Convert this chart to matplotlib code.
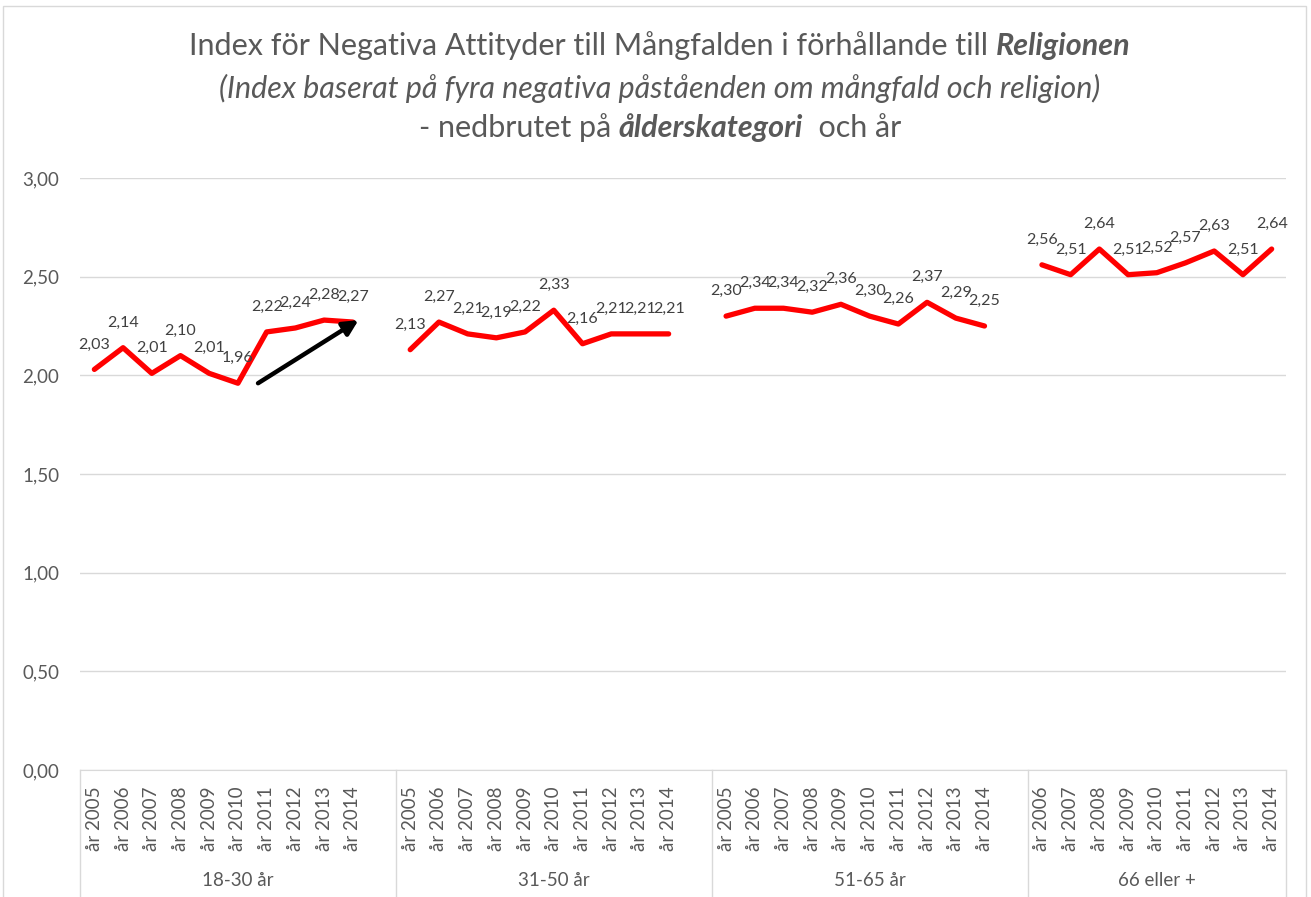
"""Index of negative attitudes, by age group and year."""
import matplotlib
matplotlib.use("Agg")
import matplotlib.pyplot as plt
from matplotlib.patches import Rectangle
import matplotlib.transforms as mtrans
import numpy as np

plt.rcParams['font.family'] = ['Lato', 'DejaVu Sans']

groups = ["18-30 år", "31-50 år", "51-65 år", "66 eller +"]
years = [
    [2005, 2006, 2007, 2008, 2009, 2010, 2011, 2012, 2013, 2014],
    [2005, 2006, 2007, 2008, 2009, 2010, 2011, 2012, 2013, 2014],
    [2005, 2006, 2007, 2008, 2009, 2010, 2011, 2012, 2013, 2014],
    [2006, 2007, 2008, 2009, 2010, 2011, 2012, 2013, 2014],
]
values = [
    [2.03, 2.14, 2.01, 2.10, 2.01, 1.96, 2.22, 2.24, 2.28, 2.27],
    [2.13, 2.27, 2.21, 2.19, 2.22, 2.33, 2.16, 2.21, 2.21, 2.21],
    [2.30, 2.34, 2.34, 2.32, 2.36, 2.30, 2.26, 2.37, 2.29, 2.25],
    [2.56, 2.51, 2.64, 2.51, 2.52, 2.57, 2.63, 2.51, 2.64],
]
# trend arrow in the first group: (category index, value)
arrow_start = (5.7, 1.96)
arrow_end = (9.2, 2.28)

yticks = [0.0, 0.5, 1.0, 1.5, 2.0, 2.5, 3.0]

def fmt(v):
    return f"{v:.2f}".replace(".", ",")

W, H = 1311, 897
fig = plt.figure(figsize=(W / 100, H / 100), dpi=100)
ax = fig.add_axes([80 / W, 1 - 770 / H, (1286 - 80) / W, (770 - 178) / H])

# chart border
fig.patches.append(Rectangle((3 / W, -0.01), 1303 / W, 1 - 6 / H + 0.01,
                             transform=fig.transFigure, fill=False,
                             edgecolor="#d9d9d9", lw=1))

red = "#ff0000"
label_col = "#404040"
tick_pos, tick_lab, bounds, centers = [], [], [-0.5], []
pos = 0
for g, (yrs, vals) in enumerate(zip(years, values)):
    xs = np.arange(pos, pos + len(yrs))
    ax.plot(xs, vals, color=red, lw=3.8, solid_capstyle="round",
            solid_joinstyle="round", zorder=3)
    for x, v in zip(xs, vals):
        ax.annotate(fmt(v), (x, v), xytext=(0, 18), textcoords="offset points",
                    ha="center", va="center", fontsize=11.5, color=label_col)
    tick_pos += list(xs)
    tick_lab += [f"år {y}" for y in yrs]
    n = len(yrs) + (1 if g < len(groups) - 1 else 0)
    centers.append(pos - 0.5 + n / 2)
    pos += n
    bounds.append(pos - 0.5)

ax.annotate("", xy=arrow_end, xytext=arrow_start,
            arrowprops=dict(arrowstyle="-|>,head_length=0.9,head_width=0.45",
                            color="black", lw=3.2, shrinkA=0, shrinkB=0),
            zorder=4)

ax.set_xlim(-0.5, pos - 0.5)
ax.set_ylim(0, 3)
ax.set_yticks(yticks)
ax.set_yticklabels([fmt(v) for v in yticks], fontsize=13.5, color="#595959")
ax.yaxis.grid(True, color="#d9d9d9", lw=1)
ax.set_axisbelow(True)
ax.tick_params(axis="y", length=0, pad=15)
ax.set_xticks(tick_pos)
ax.set_xticklabels(tick_lab, rotation=90, fontsize=13.5, color="#595959")
ax.tick_params(axis="x", length=0, pad=12)
for s in ["top", "right", "left"]:
    ax.spines[s].set_visible(False)
ax.spines["bottom"].set_color("#d9d9d9")

# group axis: separators and group names
trans = mtrans.blended_transform_factory(ax.transData, ax.transAxes)
for b in bounds:
    ax.plot([b, b], [0, -0.25], color="#d9d9d9", lw=1, transform=trans,
            clip_on=False)
for c, name in zip(centers, groups):
    ax.text(c, -110 / (770 - 178), name, transform=trans, ha="center",
            va="center", fontsize=13.5, color="#595959")

# title, with mixed styles per line
title_lines = [
    [("Index för Negativa Attityder till Mångfalden i förhållande till ", "normal", "normal"),
     ("Religionen", "bold", "italic")],
    [("(Index baserat på fyra negativa påståenden om mångfald och religion)", "normal", "italic")],
    [("- nedbrutet på ", "normal", "normal"), ("ålderskategori", "bold", "italic"),
     ("  och år", "normal", "normal")],
]
title_y = [46, 88, 128]
renderer = fig.canvas.get_renderer()
for line, yp in zip(title_lines, title_y):
    parts = []
    for txt, wt, st in line:
        t = fig.text(0, 1 - yp / H, txt, fontsize=22, fontweight=wt, fontstyle=st,
                     color="#595959", va="center", ha="left")
        parts.append(t)
    widths = [p.get_window_extent(renderer).width for p in parts]
    x0 = 660 - sum(widths) / 2
    for p, w in zip(parts, widths):
        p.set_x(x0 / W)
        x0 += w

fig.savefig("out.png", dpi=100)
